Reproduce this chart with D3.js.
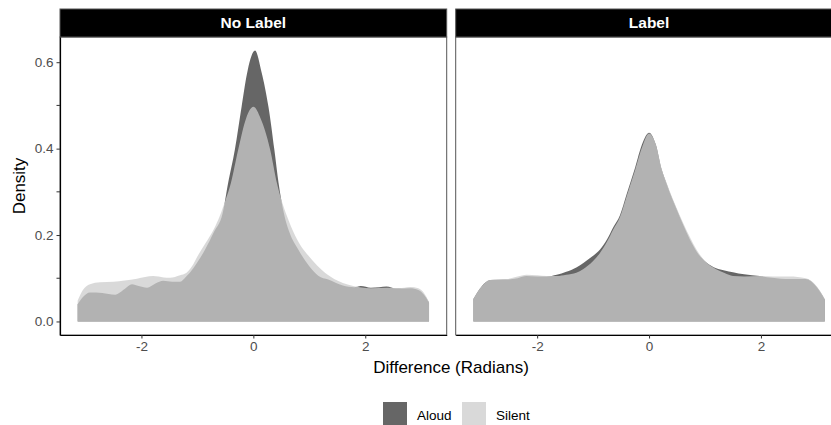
<!DOCTYPE html>
<html>
<head>
<meta charset="utf-8">
<script src="https://cdn.jsdelivr.net/npm/d3@7"></script>
<style>
  body { margin: 0; background: #fff; }
  text { font-family: "Liberation Sans", Arial, sans-serif; }
</style>
</head>
<body>
<div id="visualization"></div>
<script>
// panels and series
let panels = ['No Label', 'Label']
let groups = ['Aloud', 'Silent']

// density readings, [difference in radians, density]
let noLabelAloud = [
  [-3.14, 0.040], [-3.05, 0.056], [-2.92, 0.067], [-2.7, 0.066], [-2.47, 0.062],
  [-2.3, 0.075], [-2.17, 0.086], [-2.05, 0.082], [-1.9, 0.078], [-1.75, 0.088],
  [-1.61, 0.094], [-1.45, 0.092], [-1.31, 0.092], [-1.2, 0.104], [-1.07, 0.124],
  [-0.86, 0.167], [-0.7, 0.208], [-0.55, 0.250], [-0.45, 0.321], [-0.33, 0.398],
  [-0.21, 0.497], [-0.1, 0.582], [0.03, 0.627], [0.15, 0.575], [0.27, 0.497],
  [0.375, 0.398], [0.45, 0.321], [0.55, 0.248], [0.65, 0.205], [0.8, 0.167],
  [1.0, 0.128], [1.16, 0.106], [1.34, 0.097], [1.6, 0.083], [1.8, 0.079],
  [1.92, 0.082], [2.1, 0.078], [2.25, 0.079], [2.38, 0.081], [2.55, 0.076],
  [2.8, 0.077], [2.95, 0.073], [3.05, 0.062], [3.14, 0.044]
]
let noLabelSilent = [
  [-3.14, 0.048], [-3.05, 0.072], [-2.92, 0.086], [-2.74, 0.091], [-2.5, 0.092],
  [-2.3, 0.095], [-2.08, 0.099], [-1.79, 0.105], [-1.6, 0.102], [-1.49, 0.101],
  [-1.31, 0.107], [-1.2, 0.112], [-1.1, 0.127], [-0.98, 0.155], [-0.85, 0.182],
  [-0.7, 0.215], [-0.6, 0.244], [-0.5, 0.280], [-0.4, 0.321], [-0.27, 0.398],
  [-0.13, 0.470], [0.0, 0.497], [0.13, 0.470], [0.3, 0.398], [0.42, 0.321],
  [0.6, 0.244], [0.75, 0.198], [0.89, 0.167], [1.0, 0.150], [1.28, 0.113],
  [1.5, 0.095], [1.7, 0.085], [1.9, 0.079], [2.1, 0.077], [2.4, 0.078],
  [2.6, 0.077], [2.8, 0.080], [2.95, 0.077], [3.05, 0.066], [3.14, 0.045]
]
let labelAloud = [
  [-3.14, 0.052], [-3.0, 0.080], [-2.84, 0.096], [-2.55, 0.097], [-2.35, 0.100],
  [-2.19, 0.105], [-2.0, 0.104], [-1.83, 0.104], [-1.65, 0.108], [-1.48, 0.115],
  [-1.3, 0.125], [-1.18, 0.135], [-1.0, 0.152], [-0.88, 0.166], [-0.75, 0.190],
  [-0.64, 0.218], [-0.52, 0.246], [-0.4, 0.295], [-0.25, 0.356], [-0.12, 0.412],
  [0.0, 0.437], [0.12, 0.410], [0.227, 0.351], [0.31, 0.320], [0.42, 0.282],
  [0.55, 0.242], [0.79, 0.175], [0.85, 0.162], [1.02, 0.137], [1.2, 0.123],
  [1.35, 0.118], [1.5, 0.114], [1.7, 0.109], [1.98, 0.105], [2.2, 0.101],
  [2.51, 0.098], [2.8, 0.098], [2.98, 0.082], [3.06, 0.068], [3.14, 0.051]
]
let labelSilent = [
  [-3.14, 0.052], [-3.0, 0.080], [-2.84, 0.096], [-2.55, 0.098], [-2.35, 0.104],
  [-2.19, 0.108], [-2.0, 0.107], [-1.83, 0.105], [-1.65, 0.105], [-1.48, 0.108],
  [-1.3, 0.113], [-1.18, 0.121], [-1.0, 0.140], [-0.88, 0.158], [-0.75, 0.185],
  [-0.64, 0.213], [-0.52, 0.242], [-0.4, 0.290], [-0.25, 0.350], [-0.12, 0.405],
  [0.0, 0.435], [0.12, 0.410], [0.227, 0.352], [0.31, 0.322], [0.42, 0.285],
  [0.55, 0.245], [0.79, 0.180], [0.85, 0.166], [1.02, 0.137], [1.2, 0.121],
  [1.35, 0.112], [1.5, 0.105], [1.7, 0.104], [1.98, 0.105], [2.2, 0.104],
  [2.51, 0.104], [2.8, 0.100], [2.98, 0.084], [3.06, 0.070], [3.14, 0.052]
]

let xTicks = [-2, 0, 2]
let yTicks = [0, 0.2, 0.4, 0.6]
let yMinorTicks = [0.1, 0.3, 0.5]

let seriesByPanel = {
  'No Label': { 'Aloud': noLabelAloud, 'Silent': noLabelSilent },
  'Label': { 'Aloud': labelAloud, 'Silent': labelSilent }
}

let chartWidth = 831
let chartHeight = 425

let panelTop = 37
let panelBottom = 335
let panelLefts = [60, 455.7]
let panelWidth = 386.7
let stripHeight = 28
let fontStack = '"Liberation Sans", Arial, sans-serif'

let fills = d3.scaleOrdinal().domain(groups).range(['#333333', '#cccccc'])
let fillAlpha = 0.75

let svg = d3.select('#visualization')
  .append('svg')
    .attr('width', chartWidth)
    .attr('height', chartHeight)

let xLimit = Math.PI * 1.1
let yMax = d3.max([noLabelAloud, noLabelSilent, labelAloud, labelSilent], (s) => d3.max(s, (d) => d[1]))
let yScale = d3.scaleLinear()
  .domain([-yMax * 0.05, yMax * 1.05])
  .range([panelBottom, panelTop])

panels.forEach((panel, i) => {
  let left = panelLefts[i]
  let xScale = d3.scaleLinear()
    .domain([-xLimit, xLimit])
    .range([left, left + panelWidth])

  let g = svg.append('g')

  let area = d3.area()
    .x((d) => xScale(d[0]))
    .y0(yScale(0))
    .y1((d) => yScale(d[1]))
    .curve(d3.curveMonotoneX)

  groups.forEach((grp) => {
    g.append('path')
      .datum(seriesByPanel[panel][grp])
      .attr('d', area)
      .attr('fill', fills(grp))
      .attr('fill-opacity', fillAlpha)
  })

  // panel border
  g.append('rect')
    .attr('x', left)
    .attr('y', panelTop)
    .attr('width', panelWidth)
    .attr('height', panelBottom - panelTop)
    .attr('fill', 'none')
    .attr('stroke', '#555')
    .attr('stroke-width', 1)

  // strip
  g.append('rect')
    .attr('x', left)
    .attr('y', panelTop - stripHeight)
    .attr('width', panelWidth)
    .attr('height', stripHeight)
    .attr('fill', '#000')
    .attr('stroke', '#555')
  g.append('text')
    .text(panel)
    .attr('x', left + panelWidth / 2)
    .attr('y', panelTop - stripHeight / 2)
    .attr('dy', '0.35em')
    .attr('text-anchor', 'middle')
    .attr('fill', '#fff')
    .attr('font-size', 15.5)
    .attr('font-weight', 'bold')

  // x axis
  let xAxis = g.append('g')
    .attr('transform', `translate(0,${panelBottom})`)
    .call(d3.axisBottom(xScale).tickValues(xTicks).tickSize(3.5).tickSizeOuter(0).tickPadding(3)
      .tickFormat((d) => String(d)))
  xAxis.select('.domain').attr('stroke', '#000').attr('stroke-width', 1.2)
  xAxis.selectAll('.tick line').attr('stroke', '#333')
  xAxis.selectAll('.tick text')
    .attr('fill', '#4d4d4d')
    .attr('font-size', 13.5)
    .attr('font-family', fontStack)

  if (i === 0) {
    let yAxis = g.append('g')
      .attr('transform', `translate(${left},0)`)
      .call(d3.axisLeft(yScale).tickValues(yTicks).tickSize(3.5).tickSizeOuter(0).tickPadding(3)
        .tickFormat(d3.format('.1f')))
    yAxis.select('.domain').attr('stroke', '#000').attr('stroke-width', 1.2)
    yAxis.selectAll('.tick line').attr('stroke', '#333')
    yAxis.selectAll('.tick text')
      .attr('fill', '#4d4d4d')
      .attr('font-size', 13.5)
      .attr('font-family', fontStack)

    g.selectAll('.minor')
      .data(yMinorTicks)
      .enter()
      .append('line')
        .attr('x1', left - 3.5)
        .attr('x2', left)
        .attr('y1', (d) => yScale(d))
        .attr('y2', (d) => yScale(d))
        .attr('stroke', '#333')
  }
})

// axis titles
svg.append('text')
  .text('Difference (Radians)')
  .attr('x', 451)
  .attr('y', 367)
  .attr('dy', '0.35em')
  .attr('text-anchor', 'middle')
  .attr('font-size', 17)
  .attr('fill', '#000')

svg.append('text')
  .text('Density')
  .attr('transform', `translate(19,${(panelTop + panelBottom) / 2}) rotate(-90)`)
  .attr('dy', '0.35em')
  .attr('text-anchor', 'middle')
  .attr('font-size', 17)
  .attr('fill', '#000')

// legend
let legendX = [383, 462]
let legend = svg.selectAll('.legend')
  .data(groups)
  .enter()
  .append('g')
    .attr('transform', (d, i) => `translate(${legendX[i]},402)`)

legend.append('rect')
  .attr('width', 24)
  .attr('height', 24)
  .attr('fill', (d) => fills(d))
  .attr('fill-opacity', fillAlpha)

legend.append('text')
  .text((d) => d)
  .attr('x', 34)
  .attr('y', 13)
  .attr('dy', '0.35em')
  .attr('font-size', 13.5)
  .attr('fill', '#000')
</script>
</body>
</html>
